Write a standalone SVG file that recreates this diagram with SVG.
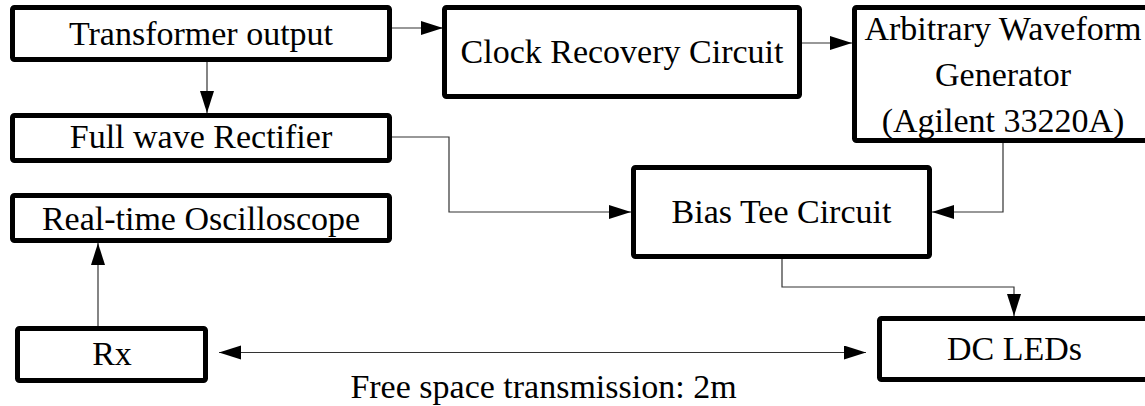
<svg xmlns="http://www.w3.org/2000/svg" width="1145" height="406" viewBox="0 0 1145 406">
<style>
.box{fill:#fff;stroke:#000;stroke-width:5;stroke-linejoin:round}
.lbl{font-family:"Liberation Serif","Times New Roman",serif;font-size:34px;fill:#000;text-anchor:middle}
.con{fill:none;stroke:#333;stroke-width:1.2}
</style>
<defs>
<marker id="ah" markerUnits="userSpaceOnUse" markerWidth="24" markerHeight="16" refX="22" refY="7" orient="auto-start-reverse" viewBox="0 0 24 16">
<path d="M0,0 L22,7 L0,14 z" fill="#000"/>
</marker>
</defs>
<rect width="1145" height="406" fill="#fff"/>
<g id="connectors">
<path class="con" d="M392 28 H443" marker-end="url(#ah)"/>
<path class="con" d="M802 43 H852" marker-end="url(#ah)"/>
<path class="con" d="M207 62 V113" marker-end="url(#ah)"/>
<path class="con" d="M392 137 H449 V212 H631" marker-end="url(#ah)"/>
<path class="con" d="M1003 143 V212 H932" marker-end="url(#ah)"/>
<path class="con" d="M782 259 V287 H1014 V316" marker-end="url(#ah)"/>
<path class="con" d="M98 326 V243" marker-end="url(#ah)"/>
<path class="con" d="M219 352.5 H866" marker-start="url(#ah)" marker-end="url(#ah)"/>
</g>
<g id="transformer">
<rect class="box" x="12.5" y="7.5" width="377" height="52" rx="2"/>
<text class="lbl" x="201" y="45">Transformer output</text>
</g>
<g id="rectifier">
<rect class="box" x="12.5" y="115.5" width="377" height="45" rx="2"/>
<text class="lbl" x="201" y="148">Full wave Rectifier</text>
</g>
<g id="oscilloscope">
<rect class="box" x="12.5" y="195.5" width="377" height="45" rx="2"/>
<text class="lbl" x="201" y="230">Real-time Oscilloscope</text>
</g>
<g id="rx">
<rect class="box" x="17.5" y="328.5" width="188" height="52" rx="2"/>
<text class="lbl" x="112" y="365">Rx</text>
</g>
<g id="clock">
<rect class="box" x="444.5" y="7.5" width="355" height="89" rx="2"/>
<text class="lbl" x="622" y="63">Clock Recovery Circuit</text>
</g>
<g id="awg">
<rect class="box" x="854.5" y="7.5" width="300" height="133" rx="2"/>
<text class="lbl" x="1003" y="40">Arbitrary Waveform</text>
<text class="lbl" x="1003" y="86">Generator</text>
<text class="lbl" x="1003" y="132">(Agilent 33220A)</text>
</g>
<g id="biastee">
<rect class="box" x="633.5" y="167.5" width="296" height="89" rx="2"/>
<text class="lbl" x="781.5" y="223">Bias Tee Circuit</text>
</g>
<g id="leds">
<rect class="box" x="879.5" y="318.5" width="275" height="61" rx="2"/>
<text class="lbl" x="1014.5" y="360">DC LEDs</text>
</g>
<g id="free-space-label">
<text class="lbl" x="543.5" y="398">Free space transmission: 2m</text>
</g>
</svg>
